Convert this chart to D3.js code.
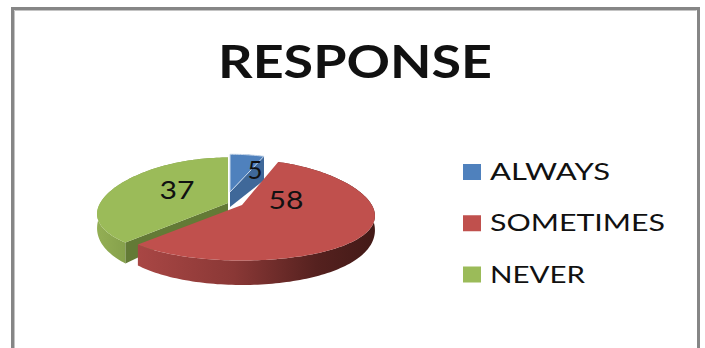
<!DOCTYPE html>
<html>
<head>
<meta charset="utf-8">
<script src="https://cdn.jsdelivr.net/npm/d3@7"></script>
<style>
  html, body { margin: 0; padding: 0; background: #fff; }
  svg { display: block; }
  text { font-family: Lato, "Open Sans", sans-serif; fill: #111; }
</style>
</head>
<body>
<svg id="chart" width="705" height="348"></svg>
<script>
const title = "RESPONSE";
const categories = ["ALWAYS", "SOMETIMES", "NEVER"];
const values = [5, 58, 37];
const faceColors = ["#4f81bd", "#c0504d", "#9bbb59"];
const cutColors = ["#3f6899", "#7d3230", "#637a36"];

// Per-slice placement of the exploded, tilted pie: apex, size on the page, wall height,
// and which radial cut face turns toward the viewer.
const sliceLayout = [
  { ax: 230, ay: 192, sx: 0.94, sy: 0.83, wall: () => 24, apexWall: 15, cut: "endAngle", lx: 25, ly: -22, lw: 15 },
  { ax: 242, ay: 205, sx: 1, sy: 1, wall: t => 13 - 11.5 * Math.cos(t), apexWall: 12, cut: null, lx: 44, ly: -5, lw: 35 },
  { ax: 228, ay: 203, sx: 0.985, sy: 1, wall: t => 13 - 11.5 * Math.cos(t), apexWall: 12, cut: "startAngle", lx: -51, ly: -13, lw: 35 }
];
const RX = 132, RY = 50.5, TILT_SHIFT = 5, PERSPECTIVE = 0.12;

const svg = d3.select("#chart");
const color = d3.scaleOrdinal(categories, faceColors);
const cutColor = d3.scaleOrdinal(categories, cutColors);
const legendY = d3.scalePoint(categories, [172, 274.5]);

// Outer frame: only the top, left and right edges fall inside the page.
svg.append("path")
  .attr("d", "M12.5,348V8.5H698.5V348")
  .attr("fill", "none").attr("stroke", "#868686").attr("stroke-width", 3);
svg.append("path")
  .attr("d", "M14.5,348V10.5H696.5")
  .attr("fill", "none").attr("stroke", "#c4c4c4").attr("stroke-width", 1);

svg.append("text")
  .attr("x", 218).attr("y", 78)
  .attr("font-size", 46).attr("font-weight", 700)
  .attr("textLength", 274).attr("lengthAdjust", "spacingAndGlyphs")
  .text(title);

// Wall shading: the red rim darkens toward the right, the green one stays light.
const defs = svg.append("defs");
const redWall = defs.append("linearGradient").attr("id", "wall-SOMETIMES")
  .attr("gradientUnits", "userSpaceOnUse")
  .attr("x1", 140).attr("x2", 375).attr("y1", 0).attr("y2", 0);
[[0, "#a84644"], [0.4, "#8a3836"], [0.75, "#55211f"], [1, "#431a17"]].forEach(([o, c]) =>
  redWall.append("stop").attr("offset", o).attr("stop-color", c));
const greenWall = defs.append("linearGradient").attr("id", "wall-NEVER")
  .attr("gradientUnits", "userSpaceOnUse")
  .attr("x1", 98).attr("x2", 140).attr("y1", 0).attr("y2", 0);
[[0, "#93ae54"], [1, "#7f9a47"]].forEach(([o, c]) =>
  greenWall.append("stop").attr("offset", o).attr("stop-color", c));

const arcs = d3.pie().sort(null)(values);
const line = d3.line();

// Rim of the tilted disc; the near side is drawn slightly wider than the far side.
function rimPoint(layout, t, drop = 0) {
  return [
    layout.ax + layout.sx * RX * Math.sin(t) * (1 - PERSPECTIVE * Math.cos(t)),
    layout.ay + layout.sy * (TILT_SHIFT - RY * Math.cos(t)) + drop
  ];
}

function sampleAngles(a0, a1) {
  const n = Math.max(2, Math.ceil((a1 - a0) * 40));
  return d3.range(n + 1).map(i => a0 + (a1 - a0) * i / n);
}

// Painter's order: green at the back, then blue, with red in front.
[2, 0, 1].forEach(i => {
  const d = arcs[i], lay = sliceLayout[i], name = categories[i];
  const angles = sampleAngles(d.startAngle, d.endAngle);
  const g = svg.append("g").attr("class", "slice");
  const apex = [lay.ax, lay.ay];
  const apexDrop = [lay.ax, lay.ay + lay.apexWall];

  // Outer wall
  const outer = angles.map(t => rimPoint(lay, t))
    .concat(angles.slice().reverse().map(t => rimPoint(lay, t, lay.wall(t))));
  g.append("path").attr("d", line(outer) + "Z")
    .attr("fill", i === 0 ? cutColor(name) : `url(#wall-${name})`);

  // Radial cut face
  if (lay.cut) {
    const t = d[lay.cut];
    g.append("path")
      .attr("d", line([apex, rimPoint(lay, t), rimPoint(lay, t, lay.wall(t)), apexDrop]) + "Z")
      .attr("fill", cutColor(name));
  }

  // Top face
  g.append("path").attr("d", line([apex, ...angles.map(t => rimPoint(lay, t))]) + "Z")
    .attr("fill", color(name))
    .attr("stroke", i === 0 ? "#c9d9ec" : "none")
    .attr("stroke-width", i === 0 ? 1 : 0);
});

// Data labels
arcs.forEach((d, i) => {
  const lay = sliceLayout[i];
  svg.append("text")
    .attr("x", lay.ax + lay.lx).attr("y", lay.ay + lay.ly)
    .attr("text-anchor", "middle").attr("dy", "0.35em")
    .attr("font-size", 25)
    .attr("textLength", lay.lw).attr("lengthAdjust", "spacingAndGlyphs")
    .text(d.value);
});

// Legend
const legendWidths = [120, 175, 95];
const legend = svg.append("g").selectAll("g").data(categories).join("g")
  .attr("transform", d => `translate(0,${legendY(d)})`);
legend.append("rect")
  .attr("x", 463).attr("y", -8).attr("width", 18).attr("height", 16)
  .attr("fill", d => color(d));
legend.append("text")
  .attr("x", 490).attr("y", 8)
  .attr("font-size", 24)
  .attr("textLength", (d, i) => legendWidths[i])
  .attr("lengthAdjust", "spacingAndGlyphs")
  .text(d => d);
</script>
</body>
</html>
